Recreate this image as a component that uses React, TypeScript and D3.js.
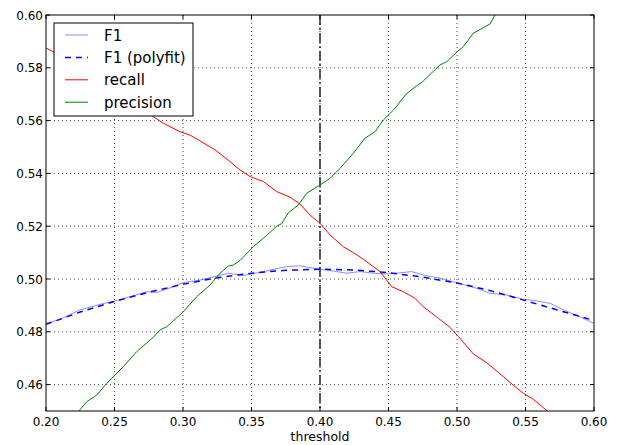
import React from 'react';
import * as d3 from 'd3';

// threshold / value pairs
const recallT = [0.2, 0.215, 0.23, 0.245, 0.26, 0.2783, 0.2856, 0.2978, 0.3051, 0.3112, 0.3234, 0.333, 0.3416, 0.3489, 0.3586, 0.3684, 0.3781, 0.3854, 0.3927, 0.4, 0.4073, 0.417, 0.4243, 0.4316, 0.4438, 0.4523, 0.4608, 0.4693, 0.4754, 0.4864, 0.4949, 0.501, 0.5119, 0.5217, 0.5338, 0.5411, 0.5484, 0.5557, 0.5666];
const recallV = [0.5875, 0.5835, 0.579, 0.5745, 0.569, 0.5615, 0.559, 0.5558, 0.5545, 0.5527, 0.5489, 0.545, 0.5413, 0.5388, 0.5369, 0.5331, 0.531, 0.5284, 0.5242, 0.5211, 0.5167, 0.5122, 0.51, 0.5075, 0.5028, 0.4971, 0.4952, 0.4927, 0.4895, 0.4851, 0.4817, 0.4782, 0.4716, 0.4683, 0.463, 0.4598, 0.4567, 0.4544, 0.4497];

const precisionT = [0.2236, 0.2297, 0.237, 0.2443, 0.2504, 0.2564, 0.2662, 0.2783, 0.2832, 0.2881, 0.3002, 0.31, 0.3197, 0.327, 0.3331, 0.3367, 0.3416, 0.3513, 0.3599, 0.3684, 0.3721, 0.3769, 0.3842, 0.3903, 0.4, 0.4073, 0.4146, 0.4243, 0.4328, 0.4401, 0.4462, 0.4536, 0.456, 0.4633, 0.4754, 0.4876, 0.4925, 0.4998, 0.5046, 0.5119, 0.5241, 0.5277, 0.53];
const precisionV = [0.4497, 0.4535, 0.456, 0.4605, 0.4636, 0.4668, 0.4725, 0.4779, 0.4807, 0.4819, 0.4876, 0.4933, 0.4977, 0.5022, 0.5049, 0.5053, 0.507, 0.5122, 0.516, 0.52, 0.521, 0.5251, 0.528, 0.5325, 0.5356, 0.5381, 0.5419, 0.5476, 0.5533, 0.5558, 0.5602, 0.564, 0.5655, 0.5703, 0.575, 0.5811, 0.5823, 0.5859, 0.588, 0.5931, 0.5966, 0.6, 0.602];

const f1T = [0.2, 0.2102, 0.2248, 0.2394, 0.2504, 0.2613, 0.2735, 0.2808, 0.2929, 0.3002, 0.3124, 0.3246, 0.3331, 0.344, 0.3586, 0.3757, 0.3854, 0.3951, 0.4073, 0.4195, 0.4292, 0.4389, 0.4487, 0.456, 0.4669, 0.4754, 0.4876, 0.4998, 0.5144, 0.5241, 0.5363, 0.5484, 0.5581, 0.5679, 0.5776, 0.5898, 0.6];
const f1V = [0.4832, 0.4847, 0.4883, 0.4904, 0.4917, 0.4933, 0.4952, 0.4949, 0.4971, 0.4986, 0.4996, 0.5011, 0.5022, 0.5013, 0.5028, 0.5047, 0.505, 0.5041, 0.5032, 0.5022, 0.5028, 0.5022, 0.5019, 0.5022, 0.5028, 0.5015, 0.5003, 0.4986, 0.4965, 0.4946, 0.4939, 0.4923, 0.4917, 0.4908, 0.4883, 0.4857, 0.4832];

const fitT = [0.2, 0.225, 0.25, 0.275, 0.3, 0.325, 0.35, 0.375, 0.4, 0.425, 0.45, 0.475, 0.5, 0.525, 0.55, 0.575, 0.6];
const fitV = [0.4828, 0.4875, 0.4915, 0.495, 0.498, 0.5005, 0.5022, 0.5033, 0.5037, 0.5034, 0.5024, 0.5007, 0.4985, 0.4955, 0.4918, 0.488, 0.4843];

const xTicks = [0.2, 0.25, 0.3, 0.35, 0.4, 0.45, 0.5, 0.55, 0.6];
const yTicks = [0.46, 0.48, 0.5, 0.52, 0.54, 0.56, 0.58, 0.6];
const chosenThreshold = 0.4;

const legendItems = [
  { label: 'F1', color: '#0000ff', opacity: 0.45, width: 1, dash: null },
  { label: 'F1 (polyfit)', color: '#0000ff', opacity: 1, width: 1.5, dash: '6,5' },
  { label: 'recall', color: '#ff0000', opacity: 1, width: 1, dash: null },
  { label: 'precision', color: '#008000', opacity: 1, width: 1, dash: null },
];

const W = 627;
const H = 445;
const margin = { top: 15, right: 33, bottom: 34, left: 46 };
const font = '"DejaVu Sans", sans-serif';

export default function App() {
  const x = d3.scaleLinear().domain([0.2, 0.6]).range([margin.left, W - margin.right]);
  const y = d3.scaleLinear().domain([0.45, 0.6]).range([H - margin.bottom, margin.top]);
  const [x0, x1] = x.range();
  const [y1, y0] = y.range();

  const line = d3.line<[number, number]>()
    .x(d => x(d[0]))
    .y(d => y(d[1]));
  const pairs = (t: number[], v: number[]) => t.map((tt, i) => [tt, v[i]] as [number, number]);

  const tickLen = 4;

  return (
    <div style={{ position: 'absolute', left: 0, top: 0 }}>
      <svg width={W} height={H} style={{ display: 'block', background: '#fff' }}>
        <defs>
          <clipPath id="plot">
            <rect x={x0} y={y0} width={x1 - x0} height={y1 - y0} />
          </clipPath>
        </defs>

        {/* grid */}
        <g stroke="#000" strokeWidth={1} strokeDasharray="1,3" opacity={0.7}>
          {xTicks.slice(1, -1).map(t => (
            <line key={'gx' + t} x1={x(t)} x2={x(t)} y1={y0} y2={y1} />
          ))}
          {yTicks.slice(0, -1).map(t => (
            <line key={'gy' + t} x1={x0} x2={x1} y1={y(t)} y2={y(t)} />
          ))}
        </g>

        <g clipPath="url(#plot)" fill="none">
          <line x1={x(chosenThreshold)} x2={x(chosenThreshold)} y1={y0} y2={y1}
            stroke="#333" strokeWidth={1.6} strokeDasharray="10,3,2,3" />
          <path d={line(pairs(f1T, f1V)) || ''} stroke="#0000ff" strokeOpacity={0.45} strokeWidth={1} />
          <path d={line(pairs(fitT, fitV)) || ''} stroke="#0000ff" strokeWidth={1.5} strokeDasharray="6,5" />
          <path d={line(pairs(recallT, recallV)) || ''} stroke="#ff0000" strokeWidth={1} />
          <path d={line(pairs(precisionT, precisionV)) || ''} stroke="#008000" strokeWidth={1} />
        </g>

        {/* frame and ticks */}
        <rect x={x0} y={y0} width={x1 - x0} height={y1 - y0} fill="none" stroke="#000" strokeWidth={1} />
        <g stroke="#000" strokeWidth={1}>
          {xTicks.map(t => (
            <g key={'tx' + t}>
              <line x1={x(t)} x2={x(t)} y1={y1} y2={y1 - tickLen} />
              <line x1={x(t)} x2={x(t)} y1={y0} y2={y0 + tickLen} />
            </g>
          ))}
          {yTicks.map(t => (
            <g key={'ty' + t}>
              <line x1={x0} x2={x0 + tickLen} y1={y(t)} y2={y(t)} />
              <line x1={x1} x2={x1 - tickLen} y1={y(t)} y2={y(t)} />
            </g>
          ))}
        </g>

        <g fontFamily={font} fontSize={12} fill="#000">
          {xTicks.map(t => (
            <text key={'lx' + t} x={x(t)} y={y1 + 15} textAnchor="middle">{t.toFixed(2)}</text>
          ))}
          {yTicks.map(t => (
            <text key={'ly' + t} x={x0 - 3} y={y(t) + 4.5} textAnchor="end">{t.toFixed(2)}</text>
          ))}
          <text x={(x0 + x1) / 2} y={H - 4} textAnchor="middle" fontSize={12.5}>threshold</text>
        </g>

        {/* legend */}
        <g>
          <rect x={54} y={23} width={139} height={93} fill="#fff" stroke="#000" strokeWidth={1} />
          {legendItems.map((it, i) => {
            const cy = 35 + i * 22.4;
            return (
              <g key={it.label}>
                <line x1={65} x2={88} y1={cy} y2={cy} stroke={it.color} strokeOpacity={it.opacity}
                  strokeWidth={it.width} strokeDasharray={it.dash || undefined} />
                <text x={104} y={cy + 5.5} fontFamily={font} fontSize={15} fill="#000">{it.label}</text>
              </g>
            );
          })}
        </g>
      </svg>
    </div>
  );
}
